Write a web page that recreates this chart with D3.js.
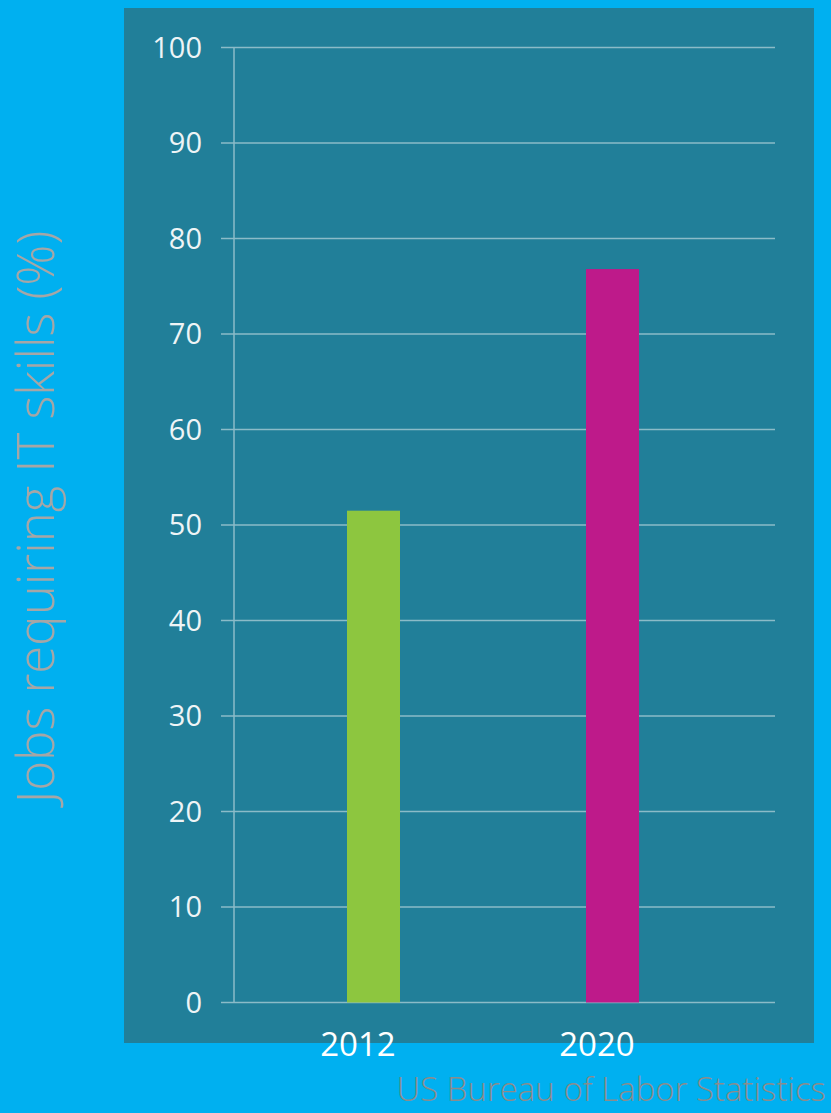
<!DOCTYPE html>
<html><head><meta charset="utf-8">
<script src="https://cdn.jsdelivr.net/npm/d3@7/dist/d3.min.js"></script>
<style>html,body{margin:0;padding:0;background:#00B0F0;overflow:hidden}</style>
</head><body>
<svg id="c" width="831" height="1113"></svg>
<script>
const categories = ["2012", "2020"];
const values = [51.5, 76.8];
const barColors = ["#8DC63F", "#BE1A8A"];
const yTicks = [0, 10, 20, 30, 40, 50, 60, 70, 80, 90, 100];
const yTitle = "Jobs requiring IT skills (%)";
const source = "US Bureau of Labor Statistics";

const svg = d3.select("#c");
svg.append("rect").attr("width", 831).attr("height", 1113).attr("fill", "#00B0F0");
svg.append("rect").attr("x", 124).attr("y", 8).attr("width", 690).attr("height", 1035).attr("fill", "#217F99");

const y = d3.scaleLinear().domain([0, 100]).range([1002.5, 47.5]);
const x = d3.scaleBand().domain(categories).range([254, 732]).padding(0);
const barW = 53;
const font = "'Open Sans', 'Noto Sans', sans-serif";

// gridlines
svg.append("g").selectAll("line").data(yTicks).join("line")
  .attr("x1", 221).attr("x2", 775)
  .attr("y1", d => y(d)).attr("y2", d => y(d))
  .attr("stroke", "#8BBBC8").attr("stroke-width", 1.5);

// y axis line
svg.append("line").attr("x1", 234).attr("x2", 234)
  .attr("y1", y(100)).attr("y2", y(0))
  .attr("stroke", "#8BBBC8").attr("stroke-width", 1.5);

// tick labels
svg.append("g").selectAll("text").data(yTicks).join("text")
  .attr("x", 202).attr("y", d => y(d)).attr("dy", "0.36em")
  .attr("text-anchor", "end").attr("fill", "#EEF4F6")
  .attr("font-family", font).attr("font-size", 29)
  .text(d => d);

// bars
svg.append("g").selectAll("rect").data(categories).join("rect")
  .attr("x", d => x(d) + x.bandwidth() / 2 - barW / 2)
  .attr("width", barW)
  .attr("y", (d, i) => y(values[i]))
  .attr("height", (d, i) => y(0) - y(values[i]))
  .attr("fill", (d, i) => barColors[i]);

// category labels
svg.append("g").selectAll("text").data(categories).join("text")
  .attr("x", d => x(d) + x.bandwidth() / 2 - 15.5)
  .attr("y", 1056)
  .attr("text-anchor", "middle").attr("fill", "#FFFFFF")
  .attr("font-family", font).attr("font-size", 33)
  .text(d => d);

// y title
const t = svg.append("text")
  .attr("transform", "translate(54,517) rotate(-90)")
  .attr("text-anchor", "middle").attr("fill", "#A6A6A6")
  .attr("font-family", font).attr("font-weight", 300).attr("font-size", 51)
  .text(yTitle);
const len = t.node().getComputedTextLength();
if (len > 600 || len < 570) t.attr("textLength", 585).attr("lengthAdjust", "spacingAndGlyphs");

// source
svg.append("text")
  .attr("x", 826).attr("y", 1101)
  .attr("text-anchor", "end").attr("fill", "#8C8C8C")
  .attr("font-family", font).attr("font-weight", 300).attr("font-size", 33)
  .text(source);
</script>
</body></html>
